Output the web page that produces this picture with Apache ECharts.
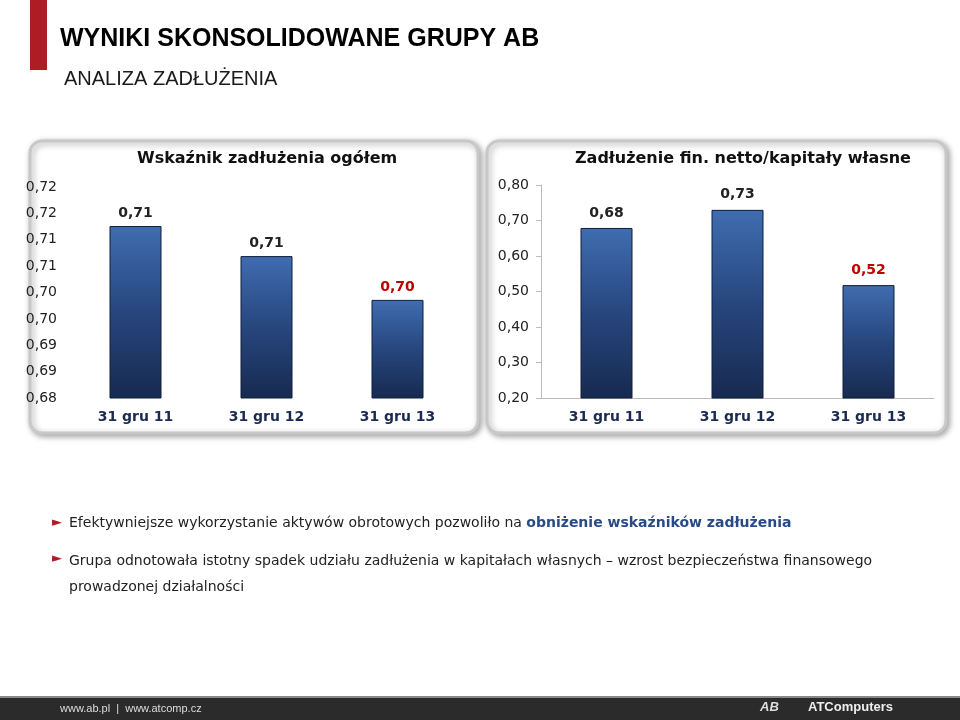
<!DOCTYPE html>
<html><head><meta charset="utf-8">
<script src="https://cdn.jsdelivr.net/npm/echarts@6/dist/echarts.min.js"></script>
<style>body{margin:0}#c{width:960px;height:720px}</style></head>
<body><div id="c"></div>
<script>
var categories = ['31 gru 11', '31 gru 12', '31 gru 13'];
var debtRatio = [0.7126, 0.7069, 0.6986];
var debtRatioLabels = ['0,71', '0,71', '0,70'];
var netDebtEquity = [0.679, 0.730, 0.518];
var netDebtLabels = ['0,68', '0,73', '0,52'];

var chart = echarts.init(document.getElementById('c'));
var font = 'Verdana, "DejaVu Sans", sans-serif';
var barColor = new echarts.graphic.LinearGradient(0, 0, 0, 1, [
  {offset: 0, color: '#3f6db0'}, {offset: 0.5, color: '#27467e'}, {offset: 1, color: '#172a4f'}
]);
// round half up, like the spreadsheet did
function fmt(v){ return (Math.round(v * 100 + 1e-6) / 100).toFixed(2).replace('.', ','); }

function panel(x, w){
  return {type: 'rect', shape: {x: x, y: 141, width: w, height: 292, r: 12}, z: -1,
    style: {fill: '#fff', stroke: '#c8c8c8', lineWidth: 3, shadowBlur: 6, shadowColor: 'rgba(0,0,0,0.35)', shadowOffsetX: 2, shadowOffsetY: 2}};
}

chart.setOption({
  animation: false,
  grid: [
    {left: 70, width: 393, top: 187, height: 211},
    {left: 541, width: 393, top: 185, height: 213}
  ],
  xAxis: [0, 1].map(function(i){ return {
    type: 'category', gridIndex: i, data: categories,
    axisLine: {show: i === 1, lineStyle: {color: '#bbb'}}, axisTick: {show: false},
    axisLabel: {color: '#1a2a50', fontWeight: 'bold', fontSize: 14, fontFamily: font, margin: 12}
  };}),
  yAxis: [
    {type: 'value', gridIndex: 0, min: 0.68, max: 0.72, interval: 0.005, splitLine: {show: false},
     axisLine: {show: false}, axisLabel: {formatter: fmt, color: '#222', fontSize: 14, fontFamily: font, margin: 13}},
    {type: 'value', gridIndex: 1, min: 0.2, max: 0.8, interval: 0.1, splitLine: {show: false},
     axisLine: {show: true, lineStyle: {color: '#bbb'}}, axisTick: {show: true, length: 5},
     axisLabel: {formatter: fmt, color: '#222', fontSize: 14, fontFamily: font, margin: 12}}
  ],
  series: [
    {type: 'bar', xAxisIndex: 0, yAxisIndex: 0, barWidth: 52,
     data: debtRatio.map(function(v, i){ return {value: v, label: {formatter: debtRatioLabels[i], color: i === 2 ? '#c00000' : '#222'}}; }),
     itemStyle: {color: barColor, borderColor: '#0f1e3c', borderWidth: 1},
     label: {show: true, position: 'top', distance: 6, fontWeight: 'bold', fontSize: 14, fontFamily: font}},
    {type: 'bar', xAxisIndex: 1, yAxisIndex: 1, barWidth: 52,
     data: netDebtEquity.map(function(v, i){ return {value: v, label: {formatter: netDebtLabels[i], color: i === 2 ? '#c00000' : '#222'}}; }),
     itemStyle: {color: barColor, borderColor: '#0f1e3c', borderWidth: 1},
     label: {show: true, position: 'top', distance: 8, fontWeight: 'bold', fontSize: 14, fontFamily: font}}
  ],
  graphic: [
    {type: 'rect', shape: {x: 30, y: 0, width: 17, height: 70}, style: {fill: '#b01c24'}},
    {type: 'text', left: 60, top: 27, style: {text: 'WYNIKI SKONSOLIDOWANE GRUPY AB', font: 'bold 25px Arial, "Liberation Sans", sans-serif', fill: '#000'}},
    {type: 'text', left: 64, top: 69, style: {text: 'ANALIZA ZADŁUŻENIA', font: '20px Arial, "Liberation Sans", sans-serif', fill: '#1a1a1a'}},
    panel(30, 448),
    panel(487, 459),
    {type: 'text', left: 137, top: 151, style: {text: 'Wskaźnik zadłużenia ogółem', font: 'bold 16px ' + font, fill: '#111'}},
    {type: 'text', left: 575, top: 151, style: {text: 'Zadłużenie fin. netto/kapitały własne', font: 'bold 16px ' + font, fill: '#111'}},
    {type: 'text', left: 52, top: 516, style: {text: '►', font: '13px "DejaVu Sans"', fill: '#b01c24'}},
    {type: 'text', left: 69, top: 516, style: {rich: {a: {font: '14px ' + font, fill: '#222'}, b: {font: 'bold 14px ' + font, fill: '#2a4a86'}},
      text: '{a|Efektywniejsze wykorzystanie aktywów obrotowych pozwoliło na }{b|obniżenie wskaźników zadłużenia}'}},
    {type: 'text', left: 52, top: 552, style: {text: '►', font: '13px "DejaVu Sans"', fill: '#b01c24'}},
    {type: 'text', left: 69, top: 548, style: {font: '14px ' + font, fill: '#222', lineHeight: 26,
      text: 'Grupa odnotowała istotny spadek udziału zadłużenia w kapitałach własnych – wzrost bezpieczeństwa finansowego\nprowadzonej działalności'}},
    {type: 'rect', shape: {x: 0, y: 698, width: 960, height: 22}, style: {fill: '#2b2b2b'}},
    {type: 'rect', shape: {x: 0, y: 696, width: 960, height: 2}, style: {fill: '#888'}},
    {type: 'text', left: 60, top: 703, style: {text: 'www.ab.pl  |  www.atcomp.cz', font: '11px "Liberation Sans Narrow", Arial, sans-serif', fill: '#ddd'}},
    {type: 'text', left: 760, top: 701, style: {text: 'AB', font: 'italic bold 13px Arial', fill: '#ddd'}},
    {type: 'text', left: 808, top: 701, style: {text: 'ATComputers', font: 'bold 13px "Liberation Sans Narrow", Arial', fill: '#eee'}}
  ]
});
</script></body></html>
